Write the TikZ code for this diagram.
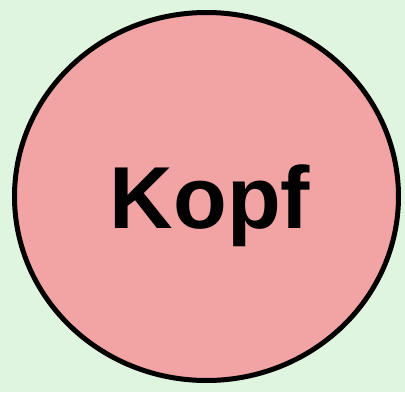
\documentclass[tikz,border=0pt]{standalone}
\usepackage{fontspec}
\setmainfont{Liberation Sans}
\usetikzlibrary{shapes.geometric}
\definecolor{bggreen}{HTML}{E0F5E0}
\definecolor{headfill}{HTML}{F2A4A4}
\tikzset{
  headshape/.style={ellipse, draw=black, fill=headfill, line width=5pt,
    minimum width=384pt, minimum height=368pt, inner sep=0pt},
  headlabel/.style={font=\fontsize{88pt}{88pt}\selectfont\bfseries, text=black, inner sep=0pt, anchor=base}
}
\begin{document}
\begin{tikzpicture}[x=1pt,y=1pt]
  \fill[bggreen] (0,0) rectangle (405,392);
  \useasboundingbox (0,0) rectangle (405,392);
  \node[headshape] (head) at (206.5,195.5) {};
  \node[headlabel] (kopf) at (210,164) {Kopf};
\end{tikzpicture}
\end{document}
